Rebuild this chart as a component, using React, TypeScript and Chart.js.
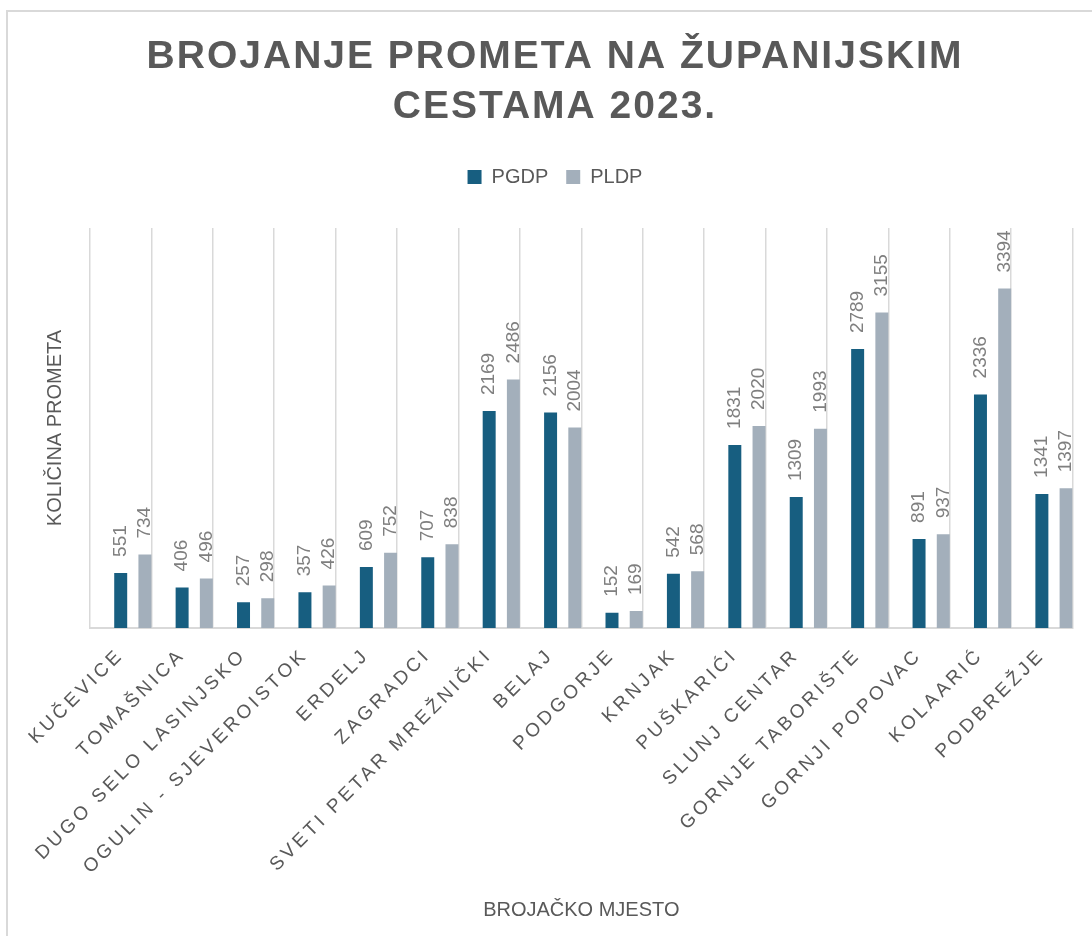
import React, { useEffect, useRef } from 'react';
import { Chart, registerables } from 'chart.js';

Chart.register(...registerables);

const TITLE_LINES = ['BROJANJE PROMETA NA ŽUPANIJSKIM', 'CESTAMA 2023.'];
const X_TITLE = 'BROJAČKO MJESTO';
const Y_TITLE = 'KOLIČINA PROMETA';

const CATEGORIES = [
  'KUČEVICE',
  'TOMAŠNICA',
  'DUGO SELO LASINJSKO',
  'OGULIN - SJEVEROISTOK',
  'ERDELJ',
  'ZAGRADCI',
  'SVETI PETAR MREŽNIČKI',
  'BELAJ',
  'PODGORJE',
  'KRNJAK',
  'PUŠKARIĆI',
  'SLUNJ CENTAR',
  'GORNJE TABORIŠTE',
  'GORNJI POPOVAC',
  'KOLAARIĆ',
  'PODBREŽJE',
];

const PGDP = [551, 406, 257, 357, 609, 707, 2169, 2156, 152, 542, 1831, 1309, 2789, 891, 2336, 1341];
const PLDP = [734, 496, 298, 426, 752, 838, 2486, 2004, 169, 568, 2020, 1993, 3155, 937, 3394, 1397];
// empty slot that reproduces the original's off-centre bar groups
const SPACER = [null, null, null, null, null, null, null, null, null, null, null, null, null, null, null, null];

const Y_MAX = 4000;

const COLOR_PGDP = '#175E80';
const COLOR_PLDP = '#A3AFBB';
const TEXT = '#595959';
const LABEL = '#7F7F7F';
const GRID = '#D9D9D9';
const FONT = '"Liberation Sans", Arial, sans-serif';

const letterSpacingPlugin = {
  id: 'letterSpacing',
  beforeDraw(chart: any) {
    const tb = chart.titleBlock;
    if (tb && !tb.__ls) {
      const orig = tb.draw.bind(tb);
      tb.draw = (...a: any[]) => {
        const ctx = chart.ctx;
        ctx.save();
        ctx.letterSpacing = '2px';
        orig(...a);
        ctx.restore();
      };
      tb.__ls = true;
    }
    const xs = chart.scales.x;
    if (xs && !xs.__ls) {
      const orig = xs.drawLabels.bind(xs);
      xs.drawLabels = (...a: any[]) => {
        const ctx = chart.ctx;
        ctx.save();
        ctx.letterSpacing = '3.5px';
        orig(...a);
        ctx.restore();
      };
      xs.__ls = true;
    }
  },
};

const legendSpacePlugin = {
  id: 'legendSpace',
  afterInit(chart: any) {
    const lg = chart.legend;
    if (lg && !lg.__fitWrapped) {
      const orig = lg.fit.bind(lg);
      lg.fit = () => {
        orig();
        lg.height += 31;
      };
      lg.__fitWrapped = true;
    }
  },
};

const barValuesPlugin = {
  id: 'barValues',
  afterDatasetsDraw(chart: any) {
    const ctx = chart.ctx;
    [1, 2].forEach((di) => {
      const meta = chart.getDatasetMeta(di);
      const values = chart.data.datasets[di].data;
      meta.data.forEach((bar: any, i: number) => {
        ctx.save();
        ctx.translate(bar.x, bar.y - 16);
        ctx.rotate(-Math.PI / 2);
        ctx.font = `19px ${FONT}`;
        ctx.fillStyle = LABEL;
        ctx.textAlign = 'left';
        ctx.textBaseline = 'middle';
        ctx.fillText(String(values[i]), 0, 0);
        ctx.restore();
      });
    });
  },
};

export default function App() {
  const ref = useRef<HTMLCanvasElement | null>(null);

  useEffect(() => {
    if (!ref.current) return;
    const chart = new Chart(ref.current, {
      type: 'bar',
      data: {
        labels: CATEGORIES,
        datasets: [
          { label: '', data: SPACER as any, backgroundColor: 'rgba(0,0,0,0)' },
          { label: 'PGDP', data: PGDP, backgroundColor: COLOR_PGDP, borderWidth: 0 },
          { label: 'PLDP', data: PLDP, backgroundColor: COLOR_PLDP, borderWidth: 0 },
        ],
      },
      options: {
        responsive: false,
        animation: false,
        events: [],
        categoryPercentage: 1.183,
        barPercentage: 0.536,
        layout: { padding: { left: 28, right: 0, top: 0, bottom: 0 } },
        plugins: {
          title: {
            display: true,
            text: TITLE_LINES,
            color: TEXT,
            font: { family: FONT, size: 39, weight: 'bold', lineHeight: 50 / 39 },
            padding: { top: 20, bottom: 17 },
          },
          legend: {
            display: true,
            position: 'top',
            labels: {
              filter: (item: any) => item.datasetIndex !== 0,
              boxWidth: 14,
              boxHeight: 14,
              padding: 18,
              color: TEXT,
              font: { family: FONT, size: 20 },
            },
          },
          tooltip: { enabled: false },
        },
        scales: {
          x: {
            grid: { display: true, color: GRID, lineWidth: 1.5, drawTicks: false, offset: true },
            border: { display: true, color: GRID, width: 2 },
            ticks: {
              autoSkip: false,
              maxRotation: 45,
              minRotation: 45,
              padding: 16,
              color: TEXT,
              font: { family: FONT, size: 19 },
            },
            title: {
              display: true,
              text: X_TITLE,
              color: TEXT,
              font: { family: FONT, size: 20 },
              padding: { top: 0, bottom: 14 },
            },
            afterFit: (scale: any) => {
              scale.height = 308;
            },
          },
          y: {
            min: 0,
            max: Y_MAX,
            grid: { display: false },
            border: { display: false },
            ticks: { display: false },
            title: {
              display: true,
              text: Y_TITLE,
              color: TEXT,
              font: { family: FONT, size: 20 },
              padding: { top: 7, bottom: 0 },
            },
            afterFit: (scale: any) => {
              scale.width = 54;
            },
          },
        },
      },
      plugins: [letterSpacingPlugin, legendSpacePlugin, barValuesPlugin],
    } as any);
    return () => chart.destroy();
  }, []);

  return (
    <div
      style={{
        position: 'absolute',
        left: 6,
        top: 10,
        width: 1100,
        height: 940,
        border: `2px solid ${GRID}`,
        background: '#fff',
      }}
    >
      <canvas ref={ref} width={1066} height={924} style={{ display: 'block' }} />
    </div>
  );
}
